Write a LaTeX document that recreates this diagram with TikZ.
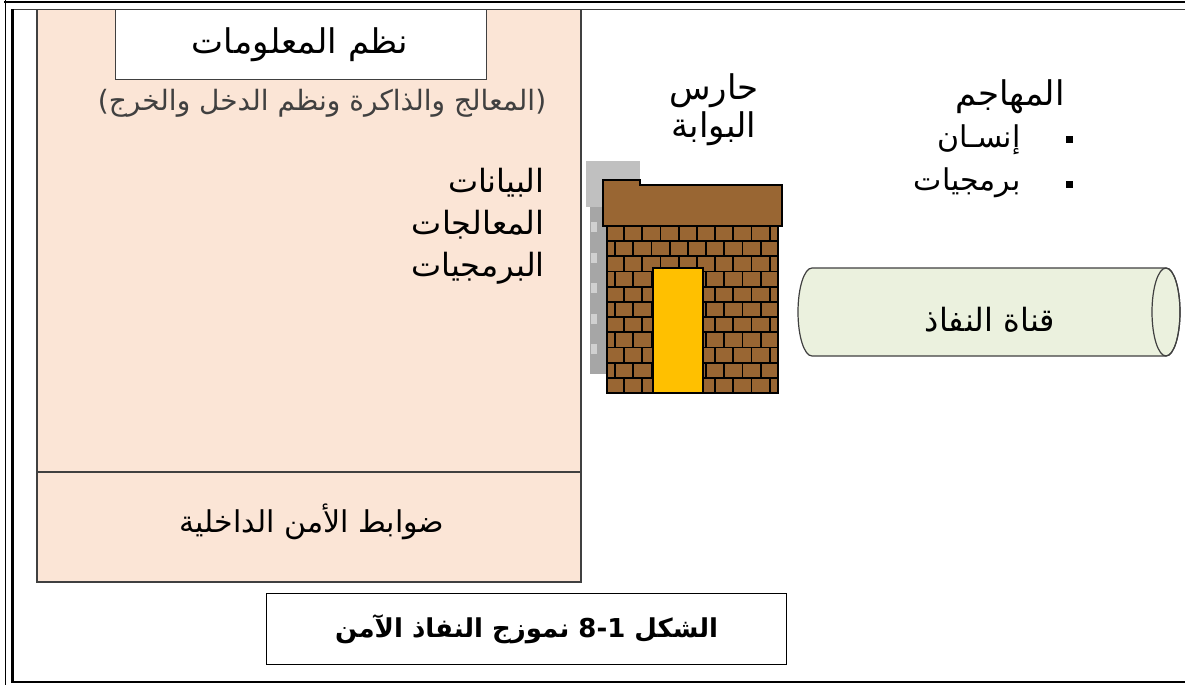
\documentclass[tikz,border=0pt]{standalone}
\usepackage{fontspec}
\newfontfamily\arabicfont[Script=Arabic]{DejaVu Sans}
\TeXXeTstate=1
\newcommand{\rtl}[1]{\beginR #1\endR}
\definecolor{peach}{HTML}{FBE5D6}
\definecolor{tubefill}{HTML}{EBF1DE}
\definecolor{brick}{HTML}{996633}
\definecolor{doorgold}{HTML}{FFC000}
\definecolor{shadelight}{HTML}{C0C0C0}
\definecolor{shadedark}{HTML}{A6A6A6}
\definecolor{shadespot}{HTML}{D0D0D0}
\definecolor{edge}{HTML}{404040}
\tikzset{
  artext/.style={font=\arabicfont, text=black, inner sep=0pt},
  panel/.style={draw=edge, line width=0.6pt},
  mortar/.style={draw=black, line width=0.9pt},
  bullet/.style={fill=black, minimum size=3.5pt, inner sep=0pt},
}
\begin{document}
\begin{tikzpicture}[x=0.5pt, y=-0.5pt]
\useasboundingbox (0,0) rectangle (1185,685);
\fill[white] (0,0) rectangle (1185,685);

% page frame: thin outer line, heavy inner line
\draw[line width=1.4pt] (4,2) -- (1185,2);
\draw[line width=0.5pt] (5.5,0) -- (5.5,685);
\draw[line width=0.9pt, draw=edge] (11,9.5) -- (1185,9.5);
\draw[line width=1.4pt] (12.5,9) -- (12.5,682) -- (1185,682);

% information systems panel
\draw[panel, fill=peach] (37,9.5) rectangle (581,582);
\draw[panel] (37,472) -- (581,472);
\node[panel, fill=white, minimum width=185.5pt, minimum height=35pt, anchor=north west, inner sep=0pt] (titlebox) at (115,9) {};
\node[artext, font=\arabicfont\fontsize{17}{20}\selectfont] (title) at (300,45) {\rtl{نظم المعلومات}};
\node[artext, text=edge, font=\arabicfont\fontsize{14}{16}\selectfont] (subtitle) at (322,103) {\rtl{(المعالج والذاكرة ونظم الدخل والخرج)}};
\node[artext, anchor=east, font=\arabicfont\fontsize{16}{18}\selectfont] (data) at (545,183) {\rtl{البيانات}};
\node[artext, anchor=east, font=\arabicfont\fontsize{16}{18}\selectfont] (proc) at (545,225) {\rtl{المعالجات}};
\node[artext, anchor=east, font=\arabicfont\fontsize{16}{18}\selectfont] (soft) at (545,268) {\rtl{البرمجيات}};
\node[artext, font=\arabicfont\fontsize{15}{17}\selectfont] (controls) at (312,522) {\rtl{ضوابط الأمن الداخلية}};

% gatekeeper: shadow, roof, brick wall and door
\fill[shadelight] (586,161) rectangle (640,207);
\fill[shadedark] (590,207) rectangle (607,374);
\foreach \k in {0,...,4}
  \fill[shadespot] (591,{222+\k*30.5}) rectangle (597,{232+\k*30.5});
\fill[white] (640,161) rectangle (785,184.5);
\draw[line width=0.9pt, fill=brick] (603,226) -- (603,180) -- (640,180) -- (640,185) -- (782,185) -- (782,226) -- cycle;
\fill[brick] (607,226) rectangle (778,393);
\foreach \r in {1,...,10}
  \draw[mortar] (607,{226+\r*15.18}) -- (778,{226+\r*15.18});
\foreach \r in {0,...,10} {
  \pgfmathsetmacro\off{ifthenelse(mod(\r,2)==0,624,615)}
  \foreach \k in {0,...,8}
    \draw[mortar] ({\off+\k*18.2},{226+\r*15.18}) -- ++(0,15.18);
}
\draw[line width=0.9pt] (607,226) rectangle (778,393);
\draw[line width=0.9pt, fill=doorgold] (653,268) rectangle (703,393);
\node[artext, align=center, font=\arabicfont\fontsize{17}{19}\selectfont] (guard) at (714,110) {\rtl{حارس}\\[0pt]\rtl{البوابة}};

% attacker
\node[artext, font=\arabicfont\fontsize{17}{19}\selectfont] (attacker) at (1010,97) {\rtl{المهاجم}};
\node[bullet] (b1) at (1069.5,139) {};
\node[bullet] (b2) at (1069.5,184) {};
\node[artext, anchor=east, font=\arabicfont\fontsize{15}{17}\selectfont] (human) at (1021,140) {\rtl{إنسـان}};
\node[artext, anchor=east, font=\arabicfont\fontsize{15}{17}\selectfont] (program) at (1021,183) {\rtl{برمجيات}};

% access channel (horizontal cylinder)
\draw[line width=0.6pt, draw=edge, fill=tubefill]
  (812,268) -- (1166,268) arc[start angle=-90, end angle=90, x radius=14, y radius=44]
  -- (812,356) arc[start angle=90, end angle=270, x radius=14, y radius=44] -- cycle;
\draw[line width=0.6pt, draw=edge] (1166,312) ellipse[x radius=14, y radius=44];
\node[artext, font=\arabicfont\fontsize{16}{18}\selectfont] (channel) at (990,320) {\rtl{قناة النفاذ}};

% caption
\node[draw=black, line width=0.6pt, fill=white, minimum width=260pt, minimum height=35.5pt, anchor=north west, inner sep=0pt] (capbox) at (266,593) {};
\node[artext, font=\arabicfont\bfseries\fontsize{13}{15}\selectfont] (caption) at (capbox.center) {\rtl{الشكل \beginL 8-1\endL{} نموزج النفاذ الآمن}};
\end{tikzpicture}
\end{document}
